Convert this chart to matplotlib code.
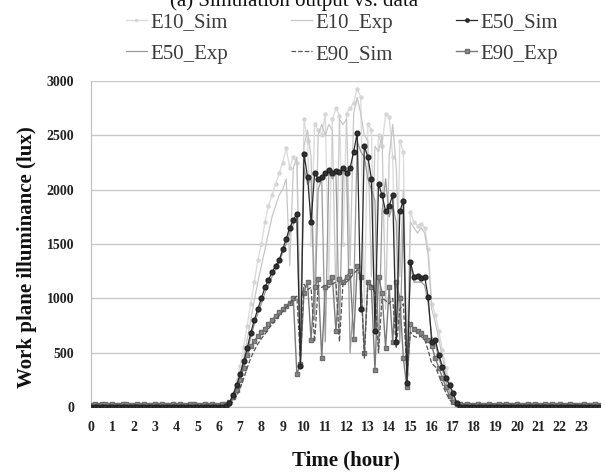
import numpy as np
import matplotlib
matplotlib.use("Agg")
import matplotlib.pyplot as plt

# ---- data: 10-minute samples, one row per hour (h:00 ... h:50) ----
hours = list(range(24))

E10_Sim = [
    0, 0, 0, 0, 0, 0,   0, 0, 0, 0, 0, 0,   0, 0, 0, 0, 0, 0,
    0, 0, 0, 0, 0, 0,   0, 0, 0, 0, 0, 0,   0, 0, 0, 0, 0, 0,
    0, 0, 0, 30, 110, 230,
    380, 550, 750, 950, 1150, 1350,
    1500, 1700, 1850, 1950, 2050, 2150,
    2250, 2380, 2200, 2300, 2250, 500,
    2650, 2450, 1500, 2600, 2550, 2500,
    2700, 1200, 2650, 2750, 2680, 1500,
    2700, 2750, 2800, 2930, 2850, 900,
    2600, 2550, 1000, 2500, 2400, 2700,
    2670, 2300, 800, 2450, 2350, 300,
    1790, 1700, 1670, 1680, 1650, 1450,
    950, 850, 700, 520, 360, 220,
    120, 50, 10, 0, 0, 0,
    0, 0, 0, 0, 0, 0,   0, 0, 0, 0, 0, 0,   0, 0, 0, 0, 0, 0,
    0, 0, 0, 0, 0, 0,   0, 0, 0, 0, 0, 0,   0, 0, 0, 0, 0, 0,
]

E10_Exp = [
    24, 25, 23, 26, 24, 25,   25, 24, 26, 25, 23, 24,   24, 26, 25, 24, 25, 23,
    25, 24, 24, 26, 25, 24,   23, 25, 24, 25, 26, 24,   25, 24, 25, 23, 24, 25,
    25, 26, 28, 40, 90, 180,
    300, 450, 620, 800, 980, 1150,
    1300, 1450, 1600, 1750, 1850, 1950,
    2000, 2100, 1300, 2200, 2300, 700,
    2400, 2550, 2300, 1000, 2500, 2600,
    2500, 2600, 2550, 1000, 2650, 2600,
    2650, 1300, 2700, 2850, 2700, 2500,
    2450, 1200, 2400, 2350, 2500, 900,
    2300, 2600, 2200, 1200, 2000, 400,
    1700, 1650, 1600, 1650, 1600, 1400,
    900, 780, 620, 460, 310, 180,
    90, 40, 26, 25, 24, 25,
    24, 25, 26, 24, 25, 24,   25, 24, 23, 25, 24, 26,   24, 25, 24, 25, 23, 24,
    25, 24, 26, 25, 24, 25,   24, 23, 25, 24, 25, 24,   25, 24, 25, 26, 24, 25,
]

E50_Sim = [
    0, 0, 0, 0, 0, 0,   0, 0, 0, 0, 0, 0,   0, 0, 0, 0, 0, 0,
    0, 0, 0, 0, 0, 0,   0, 0, 0, 0, 0, 0,   0, 0, 0, 0, 0, 0,
    0, 0, 5, 40, 110, 200,
    300, 420, 540, 680, 800, 900,
    1000, 1100, 1170, 1240, 1300, 1350,
    1450, 1550, 1650, 1720, 1780, 380,
    2330, 2120, 1700, 2150, 2100, 2120,
    2150, 2180, 2150, 2170, 2160, 2200,
    2150, 2200, 2350, 2520, 900, 2400,
    2300, 2100, 700, 2050, 1950, 1800,
    1850, 1950, 600, 1800, 1900, 220,
    1330, 1200, 1210, 1190, 1200, 1010,
    600, 620, 480, 370, 270, 200,
    130, 40, 0, 0, 0, 0,
    0, 0, 0, 0, 0, 0,   0, 0, 0, 0, 0, 0,   0, 0, 0, 0, 0, 0,
    0, 0, 0, 0, 0, 0,   0, 0, 0, 0, 0, 0,   0, 0, 0, 0, 0, 0,
]

E50_Exp = [
    24, 25, 24, 23, 25, 24,   25, 26, 24, 25, 24, 23,   25, 24, 25, 24, 26, 25,
    24, 25, 23, 24, 25, 26,   25, 24, 25, 24, 23, 25,   24, 25, 24, 26, 25, 24,
    24, 25, 27, 35, 70, 140,
    250, 380, 500, 640, 760, 860,
    950, 1050, 1120, 1200, 1270, 1330,
    1420, 1500, 1600, 1680, 1750, 450,
    2200, 2050, 2100, 800, 2000, 2100,
    600, 2150, 2100, 2150, 700, 2150,
    2200, 500, 1000, 2450, 2350, 2300,
    2100, 2000, 1900, 500, 1800, 2100,
    1750, 1850, 1700, 600, 1750, 250,
    1300, 1150, 1150, 1150, 1120, 950,
    650, 580, 450, 340, 230, 140,
    70, 30, 25, 24, 26, 25,
    25, 24, 25, 23, 24, 25,   24, 25, 26, 24, 25, 24,   25, 24, 23, 25, 24, 25,
    24, 26, 25, 24, 25, 24,   25, 24, 25, 24, 26, 25,   24, 25, 24, 25, 24, 23,
]

E90_Sim = [
    0, 0, 0, 0, 0, 0,   0, 0, 0, 0, 0, 0,   0, 0, 0, 0, 0, 0,
    0, 0, 0, 0, 0, 0,   0, 0, 0, 0, 0, 0,   0, 0, 0, 0, 0, 0,
    0, 0, 0, 15, 50, 100,
    170, 260, 360, 450, 520, 580,
    630, 670, 720, 760, 800, 840,
    880, 920, 950, 990, 1020, 420,
    1130, 1080, 1100, 600, 1120, 1100,
    1120, 1100, 1130, 1150, 600, 1140,
    1150, 1180, 1230, 1260, 1200, 450,
    1150, 1120, 1050, 500, 1000, 980,
    950, 1000, 550, 900, 950, 300,
    690, 650, 640, 650, 620, 520,
    400, 370, 290, 210, 130, 70,
    30, 10, 0, 0, 0, 0,
    0, 0, 0, 0, 0, 0,   0, 0, 0, 0, 0, 0,   0, 0, 0, 0, 0, 0,
    0, 0, 0, 0, 0, 0,   0, 0, 0, 0, 0, 0,   0, 0, 0, 0, 0, 0,
]

E90_Exp = [
    23, 24, 22, 25, 24, 23,   24, 22, 23, 24, 25, 23,   22, 24, 23, 24, 22, 23,
    24, 23, 25, 22, 23, 24,   23, 24, 22, 23, 24, 25,   23, 22, 24, 23, 24, 22,
    22, 24, 30, 45, 90, 160,
    250, 360, 480, 560, 610, 650,
    690, 720, 760, 800, 840, 870,
    900, 930, 960, 1000, 300, 400,
    1050, 1150, 620, 1100, 1180, 450,
    1100, 1150, 1200, 700, 1180, 1150,
    1200, 1250, 630, 1300, 1200, 500,
    1150, 1100, 340, 1200, 1050, 540,
    1100, 600, 1150, 1000, 450, 180,
    760, 720, 700, 680, 640, 620,
    560, 450, 360, 270, 180, 100,
    50, 30, 24, 23, 25, 22,
    23, 24, 22, 23, 24, 23,   22, 24, 23, 25, 23, 22,   24, 23, 22, 24, 23, 24,
    23, 22, 24, 23, 25, 23,   24, 23, 22, 24, 23, 22,   23, 24, 23, 22, 24, 23,
]

time_h = np.arange(len(E10_Sim)) / 6.0

# ---- figure ----
fig = plt.figure(figsize=(6.05, 4.74), dpi=100)
ax = fig.add_axes([91/605, 1-407/474, (600-91)/605, (407-81)/474])

serif = ["Liberation Serif", "DejaVu Serif"]

l1, = ax.plot(time_h, E10_Sim, color="#dcdcdc", lw=1.0, marker="o", ms=2.2,
              mec="#d6d6d6", mfc="#d6d6d6", zorder=2)
l2, = ax.plot(time_h, E10_Exp, color="#c6c6c6", lw=0.9, zorder=2)
l4, = ax.plot(time_h, E50_Exp, color="#9a9a9a", lw=0.9, zorder=3)
l6, = ax.plot(time_h, E90_Exp, color="#7a7a7a", lw=1.0, marker="s", ms=3.2,
              mec="#6e6e6e", mfc="#8a8a8a", zorder=4)
l5, = ax.plot(time_h, E90_Sim, color="#555555", lw=0.9, ls="--", zorder=5)
l3, = ax.plot(time_h, E50_Sim, color="#2a2a2a", lw=0.9, marker="o", ms=3.4,
              mec="#222222", mfc="#333333", zorder=6)

ax.set_xlim(0, 23.9)
ax.set_ylim(0, 3000)
ax.set_yticks(np.arange(0, 3001, 500))
ax.set_xticks(hours)
ax.set_xticklabels([str(h) for h in hours])
ax.grid(axis="y", color="#c8c8c8", lw=1.0, zorder=0)
ax.set_axisbelow(True)
for s in ["top", "right"]:
    ax.spines[s].set_visible(False)
ax.spines["left"].set_color("#bdbdbd")
ax.spines["bottom"].set_color("#c8c8c8")
ax.tick_params(axis="both", length=0)
ax.tick_params(axis="y", pad=12)
ax.tick_params(axis="x", pad=10)
for lab in ax.get_xticklabels() + ax.get_yticklabels():
    lab.set_family(serif)
    lab.set_fontweight("bold")
    lab.set_fontsize(10)
    lab.set_color("#222222")

fig.text(27/605, 1-257/474, "Work plane illuminance (lux)", rotation=90,
         ha="center", va="center", family=serif, fontweight="bold",
         fontsize=15, color="#111111")
fig.text(346/605, 1-460/474, "Time (hour)", ha="center", va="center",
         family=serif, fontweight="bold", fontsize=15, color="#111111")

fig.text(170/605, 1-6/474, "(a) Simulation output vs. data", ha="left",
         va="baseline", family=serif, fontsize=15, color="#111111")

handles = [l1, l4, l2, l5, l3, l6]
labels = ["E10_Sim", "E50_Exp", "E10_Exp", "E90_Sim", "E50_Sim", "E90_Exp"]
leg = fig.legend(handles, labels, ncol=3, loc="upper left",
                 bbox_to_anchor=(126/605, 1-13/474), frameon=False,
                 prop={"family": serif, "size": 15}, handlelength=1.0,
                 handletextpad=0.15, columnspacing=3.05, labelspacing=0.55,
                 borderpad=0, borderaxespad=0, markerscale=0.7)
for t in leg.get_texts():
    t.set_color("#3a3a3a")

fig.savefig("out.png", dpi=100)
